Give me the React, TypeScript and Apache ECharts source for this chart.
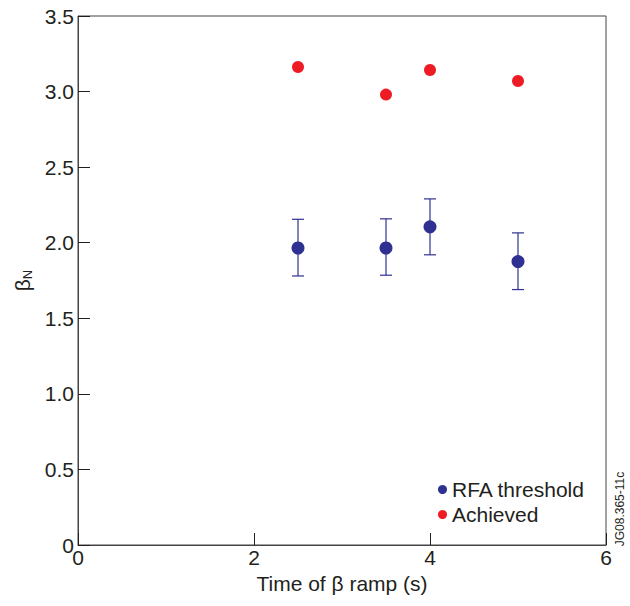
import React, { useEffect, useRef } from "react";
import * as echarts from "echarts";

const rfaTime = [2.5, 3.5, 4.0, 5.0];
const rfaBeta = [1.965, 1.965, 2.105, 1.875];
const rfaLow = [1.78, 1.785, 1.92, 1.69];
const rfaHigh = [2.155, 2.158, 2.29, 2.065];

const achTime = [2.5, 3.5, 4.0, 5.0];
const achBeta = [3.163, 2.98, 3.143, 3.07];

const xTicks = [0, 2, 4, 6];
const yTicks = [0, 0.5, 1.0, 1.5, 2.0, 2.5, 3.0, 3.5];

const BLUE = "#2e3192";
const RED = "#ed1c24";
const INK = "#231f20";
const FONT = "'Liberation Sans', Arial, Helvetica, sans-serif";

export default function App() {
  const ref = useRef<HTMLDivElement>(null);
  useEffect(() => {
    if (!ref.current) return;
    const chart = echarts.init(ref.current, undefined, { renderer: "svg" });
    const errData = rfaTime.map((t, i) => [t, rfaLow[i], rfaHigh[i]]);
    chart.setOption({
      animation: false,
      backgroundColor: "#ffffff",
      textStyle: { fontFamily: FONT },
      grid: {
        left: 78,
        top: 16,
        right: 24,
        bottom: 61,
        show: true,
        borderColor: "#444",
        borderWidth: 1,
        backgroundColor: "transparent",
      },
      legend: {
        orient: "vertical",
        left: 433,
        top: 474,
        icon: "circle",
        itemWidth: 9,
        itemHeight: 9,
        itemGap: 4,
        textStyle: { fontSize: 21, color: INK, fontFamily: FONT },
        data: ["RFA threshold", "Achieved"],
      },
      xAxis: {
        type: "value",
        min: xTicks[0],
        max: xTicks[xTicks.length - 1],
        interval: 2,
        name: "Time of β ramp (s)",
        nameLocation: "middle",
        nameGap: 24,
        nameTextStyle: { fontSize: 21, color: INK, fontFamily: FONT },
        axisLine: { show: true, lineStyle: { color: "#444", width: 1 } },
        axisTick: { show: true, inside: true, length: 12, lineStyle: { color: INK } },
        axisLabel: { fontSize: 21, color: INK, margin: 2, fontFamily: FONT },
        splitLine: { show: false },
      },
      yAxis: {
        type: "value",
        min: yTicks[0],
        max: yTicks[yTicks.length - 1],
        interval: 0.5,
        name: "{b|β}{s|N}",
        nameLocation: "middle",
        nameGap: 44,
        nameRotate: 90,
        nameTextStyle: {
          color: INK,
          fontFamily: FONT,
          rich: {
            b: { fontSize: 21, color: INK, fontFamily: FONT },
            s: { fontSize: 13, color: INK, fontFamily: FONT, verticalAlign: "bottom", padding: [9, 0, 0, 0] },
          },
        },
        axisLine: { show: true, lineStyle: { color: "#444", width: 1 } },
        axisTick: { show: true, inside: true, length: 12, lineStyle: { color: INK } },
        axisLabel: {
          fontSize: 21,
          color: INK,
          margin: 4,
          fontFamily: FONT,
          formatter: (v: number) => (v === 0 ? "0" : v.toFixed(1)),
        },
        splitLine: { show: false },
      },
      graphic: [
        {
          type: "text",
          x: 620,
          y: 509,
          rotation: Math.PI / 2,
          style: {
            text: "JG08.365-11c",
            fontSize: 12,
            fill: INK,
            fontFamily: FONT,
            align: "center",
            verticalAlign: "middle",
          },
        },
      ],
      series: [
        {
          name: "RFA error",
          type: "custom",
          data: errData,
          silent: true,
          z: 2,
          renderItem: (params: any, api: any) => {
            const x = api.value(0);
            const lo = api.coord([x, api.value(1)]);
            const hi = api.coord([x, api.value(2)]);
            const w = 6;
            const style = { stroke: BLUE, lineWidth: 1.2 };
            return {
              type: "group",
              children: [
                { type: "line", shape: { x1: lo[0], y1: lo[1], x2: hi[0], y2: hi[1] }, style },
                { type: "line", shape: { x1: lo[0] - w, y1: lo[1], x2: lo[0] + w, y2: lo[1] }, style },
                { type: "line", shape: { x1: hi[0] - w, y1: hi[1], x2: hi[0] + w, y2: hi[1] }, style },
              ],
            };
          },
        },
        {
          name: "RFA threshold",
          type: "scatter",
          symbol: "circle",
          symbolSize: 13,
          itemStyle: { color: BLUE, opacity: 1 },
          z: 3,
          data: rfaTime.map((t, i) => [t, rfaBeta[i]]),
        },
        {
          name: "Achieved",
          type: "scatter",
          symbol: "circle",
          symbolSize: 12,
          itemStyle: { color: RED, opacity: 1 },
          z: 3,
          data: achTime.map((t, i) => [t, achBeta[i]]),
        },
      ],
    });
    return () => chart.dispose();
  }, []);
  return (
    <div
      ref={ref}
      style={{ position: "fixed", left: 0, top: 0, width: 630, height: 606 }}
    />
  );
}
